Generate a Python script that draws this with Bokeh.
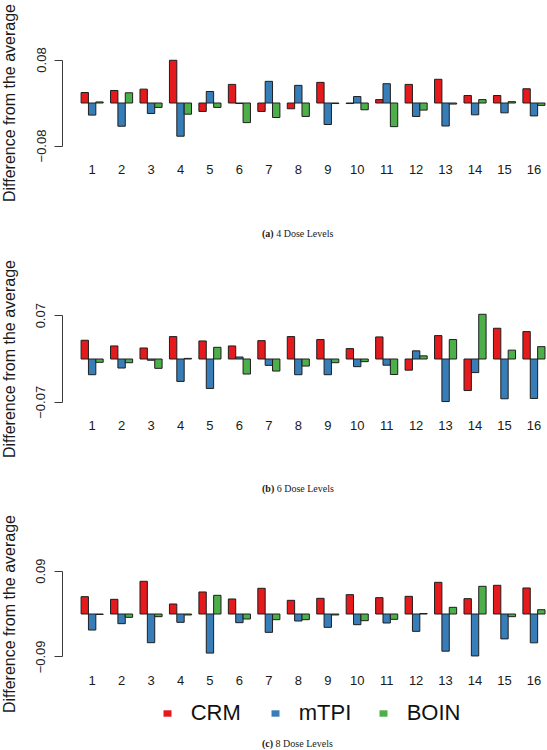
import math
from bokeh.plotting import figure
from bokeh.models import (ColumnDataSource, Range1d, FixedTicker, CustomJSTickFormatter,
                          Label, Legend, LegendItem)
from bokeh.transform import dodge
from bokeh.layouts import column, row
from bokeh.embed import file_html
from bokeh.resources import INLINE

# ---------------- data ----------------
doses = list(range(1, 17))
methods = ["CRM", "mTPI", "BOIN"]
colors = ["#E41A1C", "#377EB8", "#4DAF4A"]

crm_4 = [0.0195, 0.0233, 0.0258, 0.0795, -0.0157, 0.0346, -0.0157, -0.0107,
         0.0384, -0.001, 0.0063, 0.0346, 0.0441, 0.0139, 0.0139, 0.0265]
mtpi_4 = [-0.0225, -0.0432, -0.0195, -0.0618, 0.0214, -0.001, 0.0403, 0.0328,
          -0.0400, 0.0120, 0.0359, -0.0250, -0.0428, -0.0220, -0.0183, -0.0240]
boin_4 = [0.0020, 0.0190, -0.0082, -0.0208, -0.0082, -0.0365, -0.0270, -0.0250,
          -0.0010, -0.0126, -0.0440, -0.0132, -0.0020, 0.0063, 0.0025, -0.0044]

crm_6 = [0.0303, 0.0211, 0.0178, 0.0362, 0.0292, 0.0211, 0.0297, 0.0362,
         0.0314, 0.0168, 0.0357, -0.0180, 0.0378, -0.0510, 0.0497, 0.0443]
mtpi_6 = [-0.0254, -0.0146, -0.0020, -0.0362, -0.0476, 0.0032, -0.0103, -0.0254,
          -0.0254, -0.0124, -0.0100, 0.0132, -0.0688, -0.0220, -0.0643, -0.0638]
boin_6 = [-0.0054, -0.0060, -0.0151, 0.0010, 0.0189, -0.0243, -0.0195, -0.0114,
          -0.0060, -0.0043, -0.0251, 0.0051, 0.0314, 0.0723, 0.0143, 0.0200]

crm_8 = [0.0364, 0.0308, 0.0686, 0.0210, 0.0462, 0.0315, 0.0539, 0.0287,
         0.0329, 0.0406, 0.0343, 0.0371, 0.0665, 0.0322, 0.0602, 0.0546]
mtpi_8 = [-0.0336, -0.0203, -0.0602, -0.0175, -0.0820, -0.0182, -0.0385, -0.0147,
          -0.0280, -0.0224, -0.0189, -0.0364, -0.0780, -0.0880, -0.0522, -0.0605]
boin_8 = [-0.0010, -0.0070, -0.0056, -0.0020, 0.0392, -0.0105, -0.0119, -0.0119,
          -0.0020, -0.0140, -0.0112, 0.0010, 0.0140, 0.0581, -0.0056, 0.0090]

tick_4, tick_6, tick_8 = 0.08, 0.07, 0.09
y_label = "Difference from the average"
captions = [("(a)", "4 Dose Levels"), ("(b)", "6 Dose Levels"), ("(c)", "8 Dose Levels")]

# ---------------- layout constants ----------------
TOTAL_W, TOTAL_H = 547, 750
SIDE_W = 22
MAIN_W = TOTAL_W - SIDE_W
LEFT = 40
TOP = 46
FRAME_H = 113
SANS = "Liberation Sans"
SERIF = "Liberation Serif"


def plain_fig(w, h, left=0, x0=0):
    # x data units == page pixels; y data units == pixels from the figure top
    f = figure(width=w, height=h, x_range=Range1d(x0 + left, x0 + w),
               y_range=Range1d(h, 0),
               x_axis_type=None, y_axis_type=None, output_backend="svg",
               toolbar_location=None, min_border_left=left, min_border_right=0,
               min_border_top=0, min_border_bottom=0, title=None)
    f.outline_line_color = None
    f.grid.visible = False
    f.background_fill_color = "white"
    f.border_fill_color = "white"
    return f


def main_panel(crm, mtpi, boin, tick, tick_px, height):
    half = (FRAME_H / 2.0) / tick_px * tick
    p = figure(width=MAIN_W, height=height, x_range=Range1d(-0.006, 16.46),
               y_range=Range1d(-half, half), output_backend="svg",
               toolbar_location=None, min_border_left=LEFT, min_border_right=0,
               min_border_top=TOP, min_border_bottom=height - TOP - FRAME_H,
               title=None)
    p.outline_line_color = None
    p.grid.visible = False
    p.background_fill_color = "white"
    p.border_fill_color = "white"

    src = ColumnDataSource(dict(dose=doses, CRM=crm, mTPI=mtpi, BOIN=boin))
    for off, m, c in zip([-0.25, 0.0, 0.25], methods, colors):
        p.vbar(x=dodge("dose", off), top=m, bottom=0, width=0.25, source=src,
               fill_color=c, line_color="#1e1e1e", line_width=1)

    ya = p.yaxis[0]
    ya.bounds = (-tick, tick)
    ya.ticker = FixedTicker(ticks=[-tick, tick])
    ya.formatter = CustomJSTickFormatter(
        code="const s = Math.abs(tick).toFixed(2); return tick < 0 ? '\u2212' + s : s;")
    ya.major_label_orientation = "vertical"
    ya.major_tick_out = 8
    ya.major_tick_in = 0
    ya.minor_tick_out = 0
    ya.minor_tick_in = 0
    ya.axis_line_color = "#3a3a3a"
    ya.major_tick_line_color = "#3a3a3a"
    ya.major_label_text_font = SANS
    ya.major_label_text_font_size = "13px"
    ya.major_label_text_color = "#222222"
    ya.major_label_standoff = 9

    xa = p.xaxis[0]
    xa.ticker = FixedTicker(ticks=doses)
    xa.axis_line_color = None
    xa.major_tick_line_color = None
    xa.minor_tick_line_color = None
    xa.major_tick_out = 0
    xa.major_tick_in = 0
    xa.major_label_standoff = 5
    xa.major_label_text_font = SANS
    xa.major_label_text_font_size = "13px"
    xa.major_label_text_color = "#1a1a1a"
    return p


def add_caption(f, caption, y, bold_w):
    x0 = 261.5
    f.add_layout(Label(x=x0, y=y, text=caption[0], text_font=SERIF,
                       text_font_size="10px", text_font_style="bold",
                       text_baseline="middle", text_color="#1a1a1a"))
    f.add_layout(Label(x=x0 + bold_w + 2.5, y=y, text=caption[1], text_font=SERIF,
                       text_font_size="10px", text_baseline="middle",
                       text_color="#1a1a1a"))


# panel heights (main + footer)
H_MAIN_A, H_FOOT_A = 200, 56
H_MAIN_B, H_FOOT_B = 200, 55
H_MAIN_C, H_FOOT_C = 184, 55

pa = main_panel(crm_4, mtpi_4, boin_4, tick_4, 43.0, H_MAIN_A)
fa = plain_fig(MAIN_W, H_FOOT_A, LEFT, SIDE_W)
add_caption(fa, captions[0], 33, 11.7)

pb = main_panel(crm_6, mtpi_6, boin_6, tick_6, 43.3, H_MAIN_B)
fb = plain_fig(MAIN_W, H_FOOT_B, LEFT, SIDE_W)
add_caption(fb, captions[1], 32, 12.2)

pc = main_panel(crm_8, mtpi_8, boin_8, tick_8, 42.9, H_MAIN_C)
fc = plain_fig(MAIN_W, H_FOOT_C, LEFT, SIDE_W)
add_caption(fc, captions[2], 48, 11.1)

# legend proxies: one zero-height bar each, outside the visible range
items = []
for m, c in zip(methods, colors):
    r = fc.vbar(x=[0], top=[0], bottom=[0], width=1, fill_color=c, line_color=None)
    items.append(LegendItem(label=m, renderers=[r]))
lg = Legend(items=items, location=(161.7 - SIDE_W - LEFT, 24), orientation="horizontal",
            glyph_width=10, glyph_height=8, label_standoff=19,
            label_width=60, spacing=19, padding=0, margin=0,
            border_line_color=None, background_fill_alpha=0,
            label_text_font=SANS, label_text_font_size="22px",
            label_text_color="#111111")
fc.add_layout(lg, "center")

# side strip with the rotated y-axis titles
side = plain_fig(SIDE_W, TOTAL_H)
starts = [0, H_MAIN_A + H_FOOT_A, H_MAIN_A + H_FOOT_A + H_MAIN_B + H_FOOT_B]
for s in starts:
    side.add_layout(Label(x=9, y=s + TOP + FRAME_H / 2.0, text=y_label,
                          angle=math.pi / 2, text_align="center",
                          text_baseline="middle", text_font=SANS,
                          text_font_size="16px", text_color="#1a1a1a"))

layout = row(side, column(pa, fa, pb, fb, pc, fc, spacing=0), spacing=0)
open("out.html", "w").write(file_html(layout, INLINE))
